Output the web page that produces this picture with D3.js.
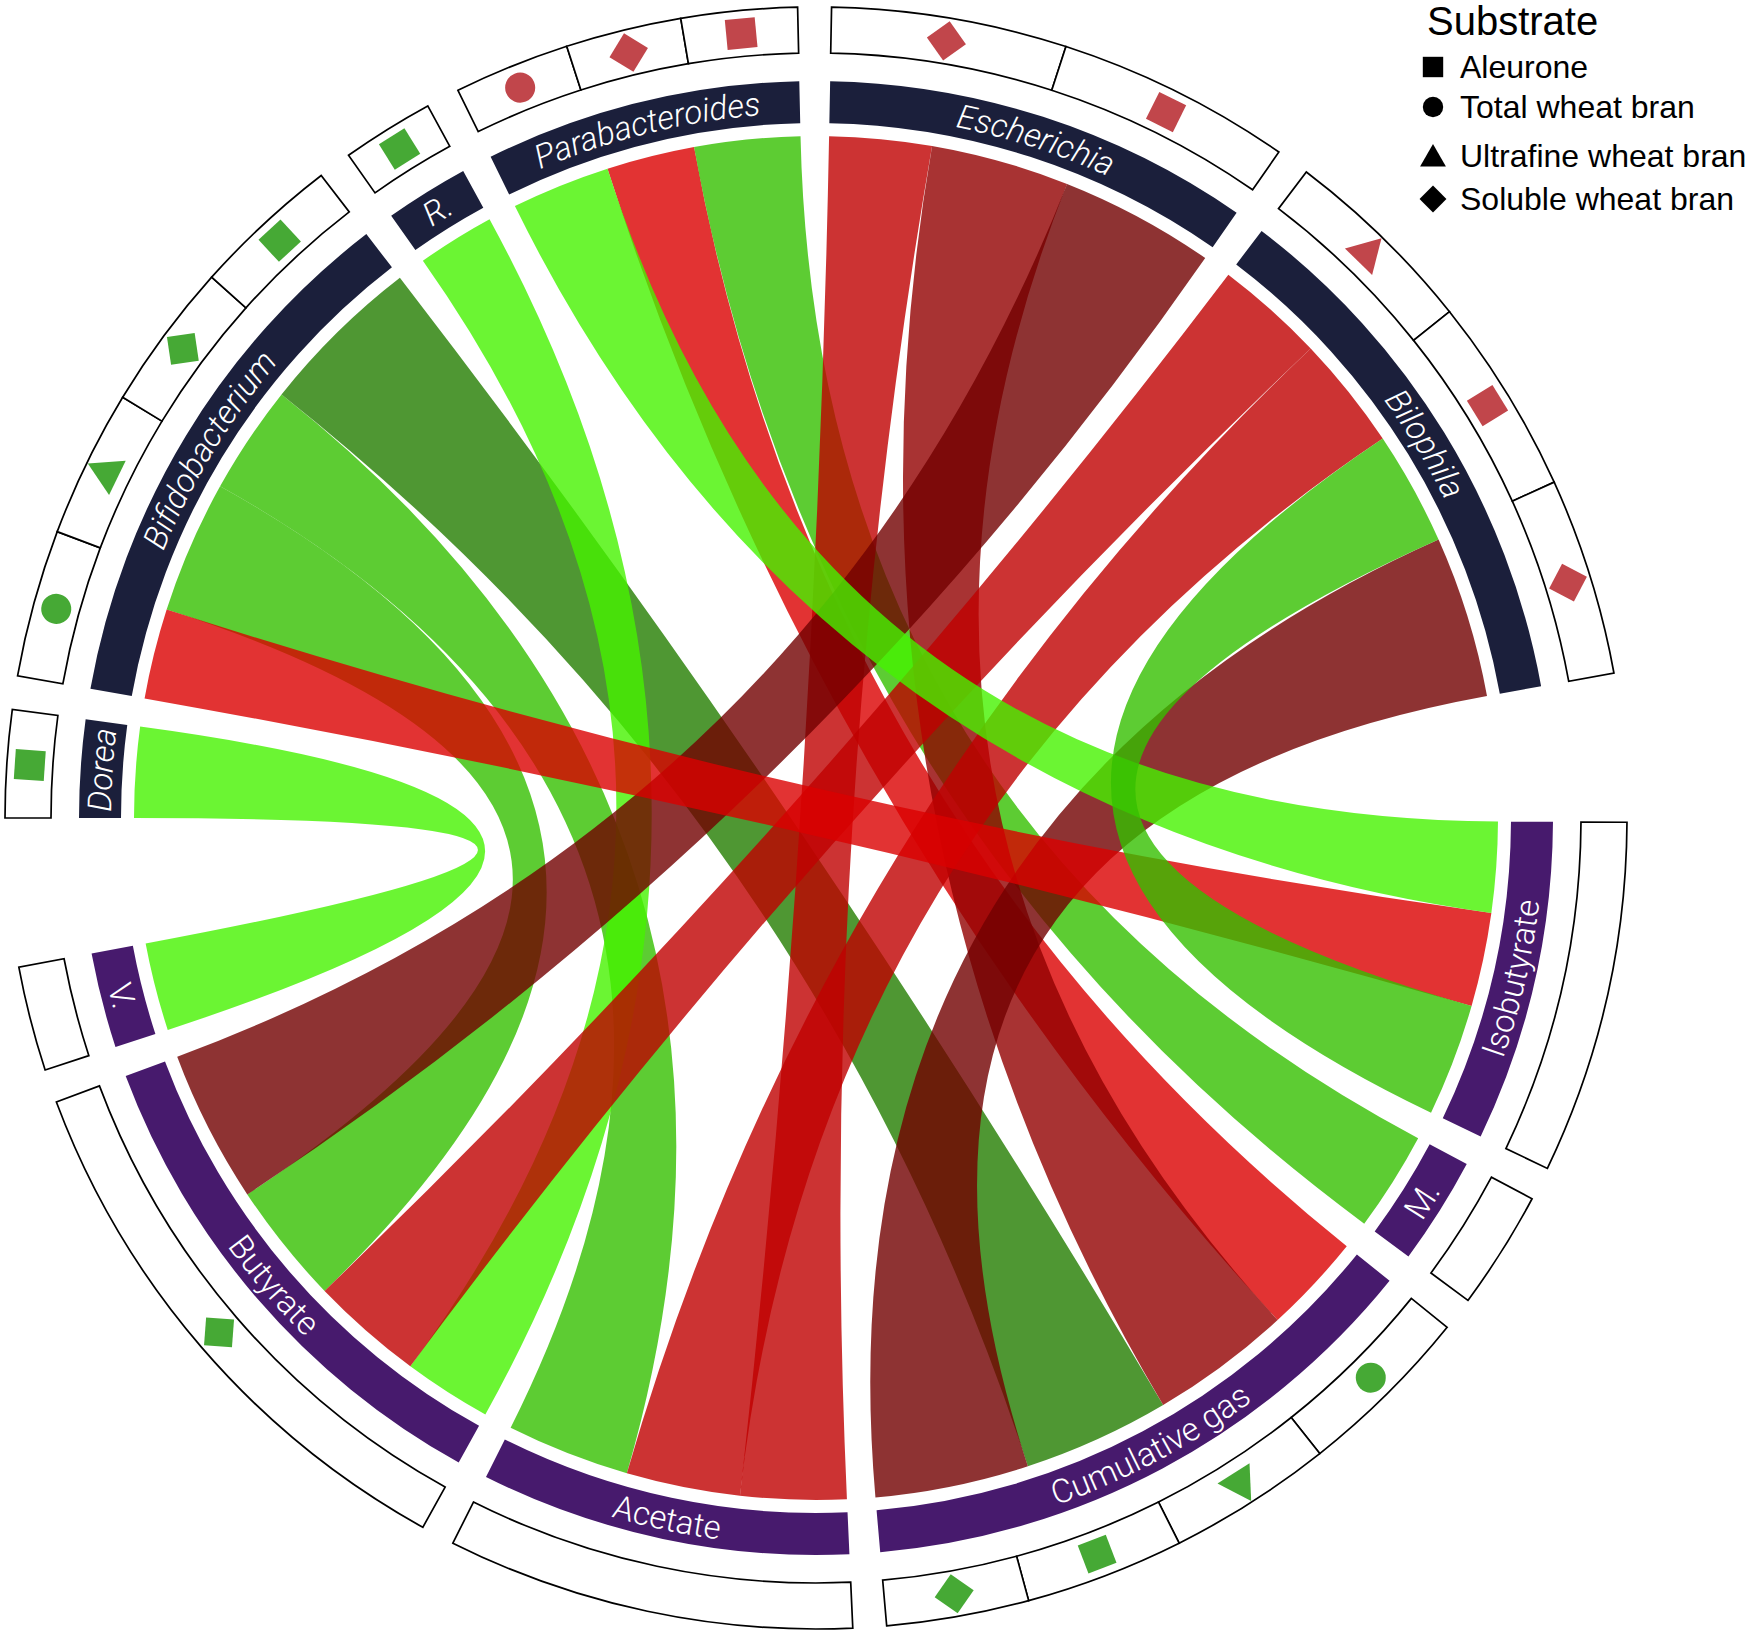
<!DOCTYPE html>
<html>
<head>
<meta charset="utf-8">
<script src="https://cdn.jsdelivr.net/npm/d3@7/dist/d3.min.js"></script>
<style>
html,body{margin:0;padding:0;background:#fff;}
svg{display:block;}
</style>
</head>
<body>
<svg id="chart" width="1750" height="1633"></svg>
<script>
// ---------------- data ----------------
const sectors = ["Dorea","Bifidobacterium","R.","Parabacteroides","Escherichia","Bilophila",
                 "Isobutyrate","M.","Cumulative gas","Acetate","Butyrate","V."];
const sectorGroup = ["genus","genus","genus","genus","genus","genus",
                     "fermentation","fermentation","fermentation","fermentation","fermentation","fermentation"];

// chords (links) : source genus -> fermentation product
const chordSource = ["Dorea","Bifidobacterium","Bifidobacterium","Bifidobacterium","Bifidobacterium","R.",
                     "Parabacteroides","Parabacteroides","Parabacteroides","Escherichia","Escherichia","Escherichia",
                     "Bilophila","Bilophila","Bilophila","Bilophila"];
const chordTarget = ["V.","Isobutyrate","Butyrate","Acetate","Cumulative gas","Butyrate",
                     "Isobutyrate","Cumulative gas","M.","Acetate","Cumulative gas","Butyrate",
                     "Butyrate","Acetate","Isobutyrate","Cumulative gas"];
const chordSourceValue = [7.7,7.7,11.3,9.3,14,6.6,8.4,7.5,9,8.7,11.8,13.2,9.3,9.7,9.7,13.8];
const chordTargetValue = [7.5,8,10.4,10.5,12.5,7.5,7.7,8.5,8.5,9,12,13,9.6,9.7,9.6,13.1];
const chordTargetRank  = [0,1,2,2,2,0,0,0,0,0,1,3,1,1,2,3];
// correlation level (+ = green, - = red)
const chordLevel = [3,-4,2,2,1,3,3,-4,2,-3,-2,-1,-3,-3,2,-1];

// outer track cells
const cellSector = ["Dorea",
  "Bifidobacterium","Bifidobacterium","Bifidobacterium","Bifidobacterium",
  "R.",
  "Parabacteroides","Parabacteroides","Parabacteroides",
  "Escherichia","Escherichia",
  "Bilophila","Bilophila","Bilophila",
  "Isobutyrate","M.",
  "Cumulative gas","Cumulative gas","Cumulative gas","Cumulative gas",
  "Acetate","Butyrate","V."];
const cellWeight = [1, 1,1,1,1, 1, 1,1,1, 1,1, 1,1,1, 1,1, 12.7,11.8,11.4,10.2, 1,1,1];
const cellSubstrate = ["Aleurone",
  "Total wheat bran","Ultrafine wheat bran","Soluble wheat bran","Aleurone",
  "Aleurone",
  "Total wheat bran","Soluble wheat bran","Aleurone",
  "Soluble wheat bran","Aleurone",
  "Ultrafine wheat bran","Aleurone","Soluble wheat bran",
  null,null,
  "Total wheat bran","Ultrafine wheat bran","Aleurone","Soluble wheat bran",
  null,"Soluble wheat bran",null];
const cellDirection = ["up",
  "up","up","up","up",
  "up",
  "down","down","down",
  "down","down",
  "down","down","down",
  null,null,
  "up","up","up","up",
  null,"up",null];

const substrates = ["Aleurone","Total wheat bran","Ultrafine wheat bran","Soluble wheat bran"];
const substrateShape = ["square","circle","triangle","diamond"];

// ---------------- styles / layout ----------------
const W = 1750, H = 1633, CX = 816, CY = 818;
const R_CHORD = 682, R_BAR_IN = 695, R_BAR_OUT = 737, R_BOX_IN = 765, R_BOX_OUT = 811;
const START_DEG = 270.0, SMALL_GAP = 2.4;
const levelColor = {"3":"#46f200","2":"#35bf00","1":"#237d00","-4":"#db0000","-3":"#bf0000","-2":"#920000","-1":"#720000"};
const groupColor = {genus:"#1b1f3b", fermentation:"#471a6d"};
const dirColor = {up:"#46a935", down:"#c1464b"};
const FONT = "'Liberation Sans', Arial, Helvetica, sans-serif";
const LABEL_FONT = "Roboto, 'Liberation Sans', Arial, sans-serif";
const deg = Math.PI / 180;

const svg = d3.select("#chart");
const g = svg.append("g").attr("transform", `translate(${CX},${CY})`);

// ends per sector
const ends = sectors.map(() => []);
chordSource.forEach((s, i) => {
  const k = sectors.indexOf(s);
  ends[k].push({chord: i, value: chordSourceValue[i], rank: ends[k].length, side: "source"});
});
chordTarget.forEach((t, i) => {
  const k = sectors.indexOf(t);
  ends[k].push({chord: i, value: chordTargetValue[i], rank: chordTargetRank[i], side: "target"});
});
ends.forEach(e => e.sort((a, b) => a.rank - b.rank));

const unitsTotal = d3.sum(chordSourceValue) + d3.sum(chordTargetValue);
const nGroups = new Set(sectorGroup).size;
const BIG_GAP = (360 - unitsTotal - (sectors.length - nGroups) * SMALL_GAP) / nGroups;
const ang = d3.scaleLinear().domain([0, unitsTotal]).range([0, unitsTotal]);

const sectorArc = [];
let cursor = START_DEG;
const chordEnds = chordSource.map(() => ({}));
sectors.forEach((s, k) => {
  const a0 = cursor;
  ends[k].forEach(e => {
    const e0 = cursor;
    cursor += ang(e.value);
    chordEnds[e.chord][e.side] = {startAngle: e0 * deg, endAngle: cursor * deg};
  });
  sectorArc.push({a0, a1: cursor});
  const lastOfGroup = (k === sectors.length - 1) || sectorGroup[k + 1] !== sectorGroup[k];
  cursor += lastOfGroup ? BIG_GAP : SMALL_GAP;
});

// ---------------- chords ----------------
const ribbon = d3.ribbon().radius(R_CHORD);
const drawOrder = d3.range(chordSource.length)
  .sort((a, b) => (chordTarget[a] === "Isobutyrate") - (chordTarget[b] === "Isobutyrate") || a - b);
g.append("g").selectAll("path")
  .data(drawOrder)
  .join("path")
  .attr("d", i => ribbon(chordEnds[i]))
  .attr("fill", i => levelColor[String(chordLevel[i])])
  .attr("fill-opacity", 0.8)
  .attr("stroke", "none");

// ---------------- sector bars ----------------
const barArc = d3.arc().innerRadius(R_BAR_IN).outerRadius(R_BAR_OUT);
g.append("g").selectAll("path")
  .data(sectorArc)
  .join("path")
  .attr("d", d => barArc({startAngle: d.a0 * deg, endAngle: d.a1 * deg}))
  .attr("fill", (d, k) => groupColor[sectorGroup[k]]);

// labels
const pt = (r, a) => [r * Math.sin(a * deg), -r * Math.cos(a * deg)];
const defs = svg.append("defs");
sectorArc.forEach((d, k) => {
  const mid = (d.a0 + d.a1) / 2;
  const m = ((mid % 360) + 360) % 360;
  const flipped = m > 90 && m < 270;
  const span = 70;
  let p;
  if (!flipped) {
    const r = 705;
    const [x0, y0] = pt(r, mid - span), [x1, y1] = pt(r, mid + span);
    p = `M${x0},${y0} A${r},${r} 0 0 1 ${x1},${y1}`;
  } else {
    const r = 728;
    const [x0, y0] = pt(r, mid + span), [x1, y1] = pt(r, mid - span);
    p = `M${x0},${y0} A${r},${r} 0 0 0 ${x1},${y1}`;
  }
  defs.append("path").attr("id", "lab" + k).attr("d", p);
  g.append("text")
    .attr("font-family", LABEL_FONT)
    .attr("font-weight", 300)
    .attr("font-size", 33)
    .attr("font-style", sectorGroup[k] === "genus" ? "italic" : "normal")
    .attr("fill", "#fff")
    .append("textPath")
    .attr("href", "#lab" + k)
    .attr("startOffset", "50%")
    .attr("text-anchor", "middle")
    .text(sectors[k]);
});

// ---------------- outer track ----------------
const boxArc = d3.arc().innerRadius(R_BOX_IN).outerRadius(R_BOX_OUT);
const shapeOf = s => substrateShape[substrates.indexOf(s)];
function markerPath(shape, big) {
  const f = big ? 1 : 0.68;
  if (shape === "circle") return d3.symbol(d3.symbolCircle, Math.PI * Math.pow(15 * f, 2))();
  if (shape === "square") return d3.symbol(d3.symbolSquare, Math.pow(30 * f, 2))();
  if (shape === "diamond") return d3.symbol(d3.symbolSquare, Math.pow(28 * f, 2))();
  // triangle, apex up (outward), centroid at origin
  const s = 38 * f, h = s * Math.sqrt(3) / 2;
  return `M0,${-2 * h / 3}L${s / 2},${h / 3}L${-s / 2},${h / 3}Z`;
}
const cellsBySector = sectors.map(s => cellSector.map((c, i) => c === s ? i : -1).filter(i => i >= 0));
const track = g.append("g");
cellsBySector.forEach((idx, k) => {
  const {a0, a1} = sectorArc[k];
  const tot = d3.sum(idx, i => cellWeight[i]);
  let acc = 0;
  idx.forEach(ci => {
    const c0 = a0 + (a1 - a0) * acc / tot;
    acc += cellWeight[ci];
    const c1 = a0 + (a1 - a0) * acc / tot;
    track.append("path")
      .attr("d", boxArc({startAngle: c0 * deg, endAngle: c1 * deg}))
      .attr("fill", "#fff").attr("stroke", "#000").attr("stroke-width", 1.7);
    if (cellSubstrate[ci]) {
      const mid = (c0 + c1) / 2;
      const shape = shapeOf(cellSubstrate[ci]);
      const [x, y] = pt((R_BOX_IN + R_BOX_OUT) / 2, mid);
      track.append("path")
        .attr("d", markerPath(shape, true))
        .attr("transform", `translate(${x},${y}) rotate(${mid + (shape === "diamond" ? 45 : 0)})`)
        .attr("fill", dirColor[cellDirection[ci]]);
    }
  });
});

// ---------------- legend ----------------
const lg = svg.append("g");
lg.append("text").attr("x", 1427).attr("y", 35)
  .attr("font-family", FONT).attr("font-size", 40).attr("fill", "#000").text("Substrate");
const legendBase = [78, 118, 167, 210];
substrates.forEach((s, i) => {
  const shape = substrateShape[i];
  lg.append("path")
    .attr("d", markerPath(shape, false))
    .attr("transform", `translate(1433,${legendBase[i] - (shape === "triangle" ? 8 : 11)}) rotate(${shape === "diamond" ? 45 : 0})`)
    .attr("fill", "#000");
  lg.append("text").attr("x", 1460).attr("y", legendBase[i])
    .attr("font-family", FONT).attr("font-size", 32).attr("fill", "#000").text(s);
});
</script>
</body>
</html>
